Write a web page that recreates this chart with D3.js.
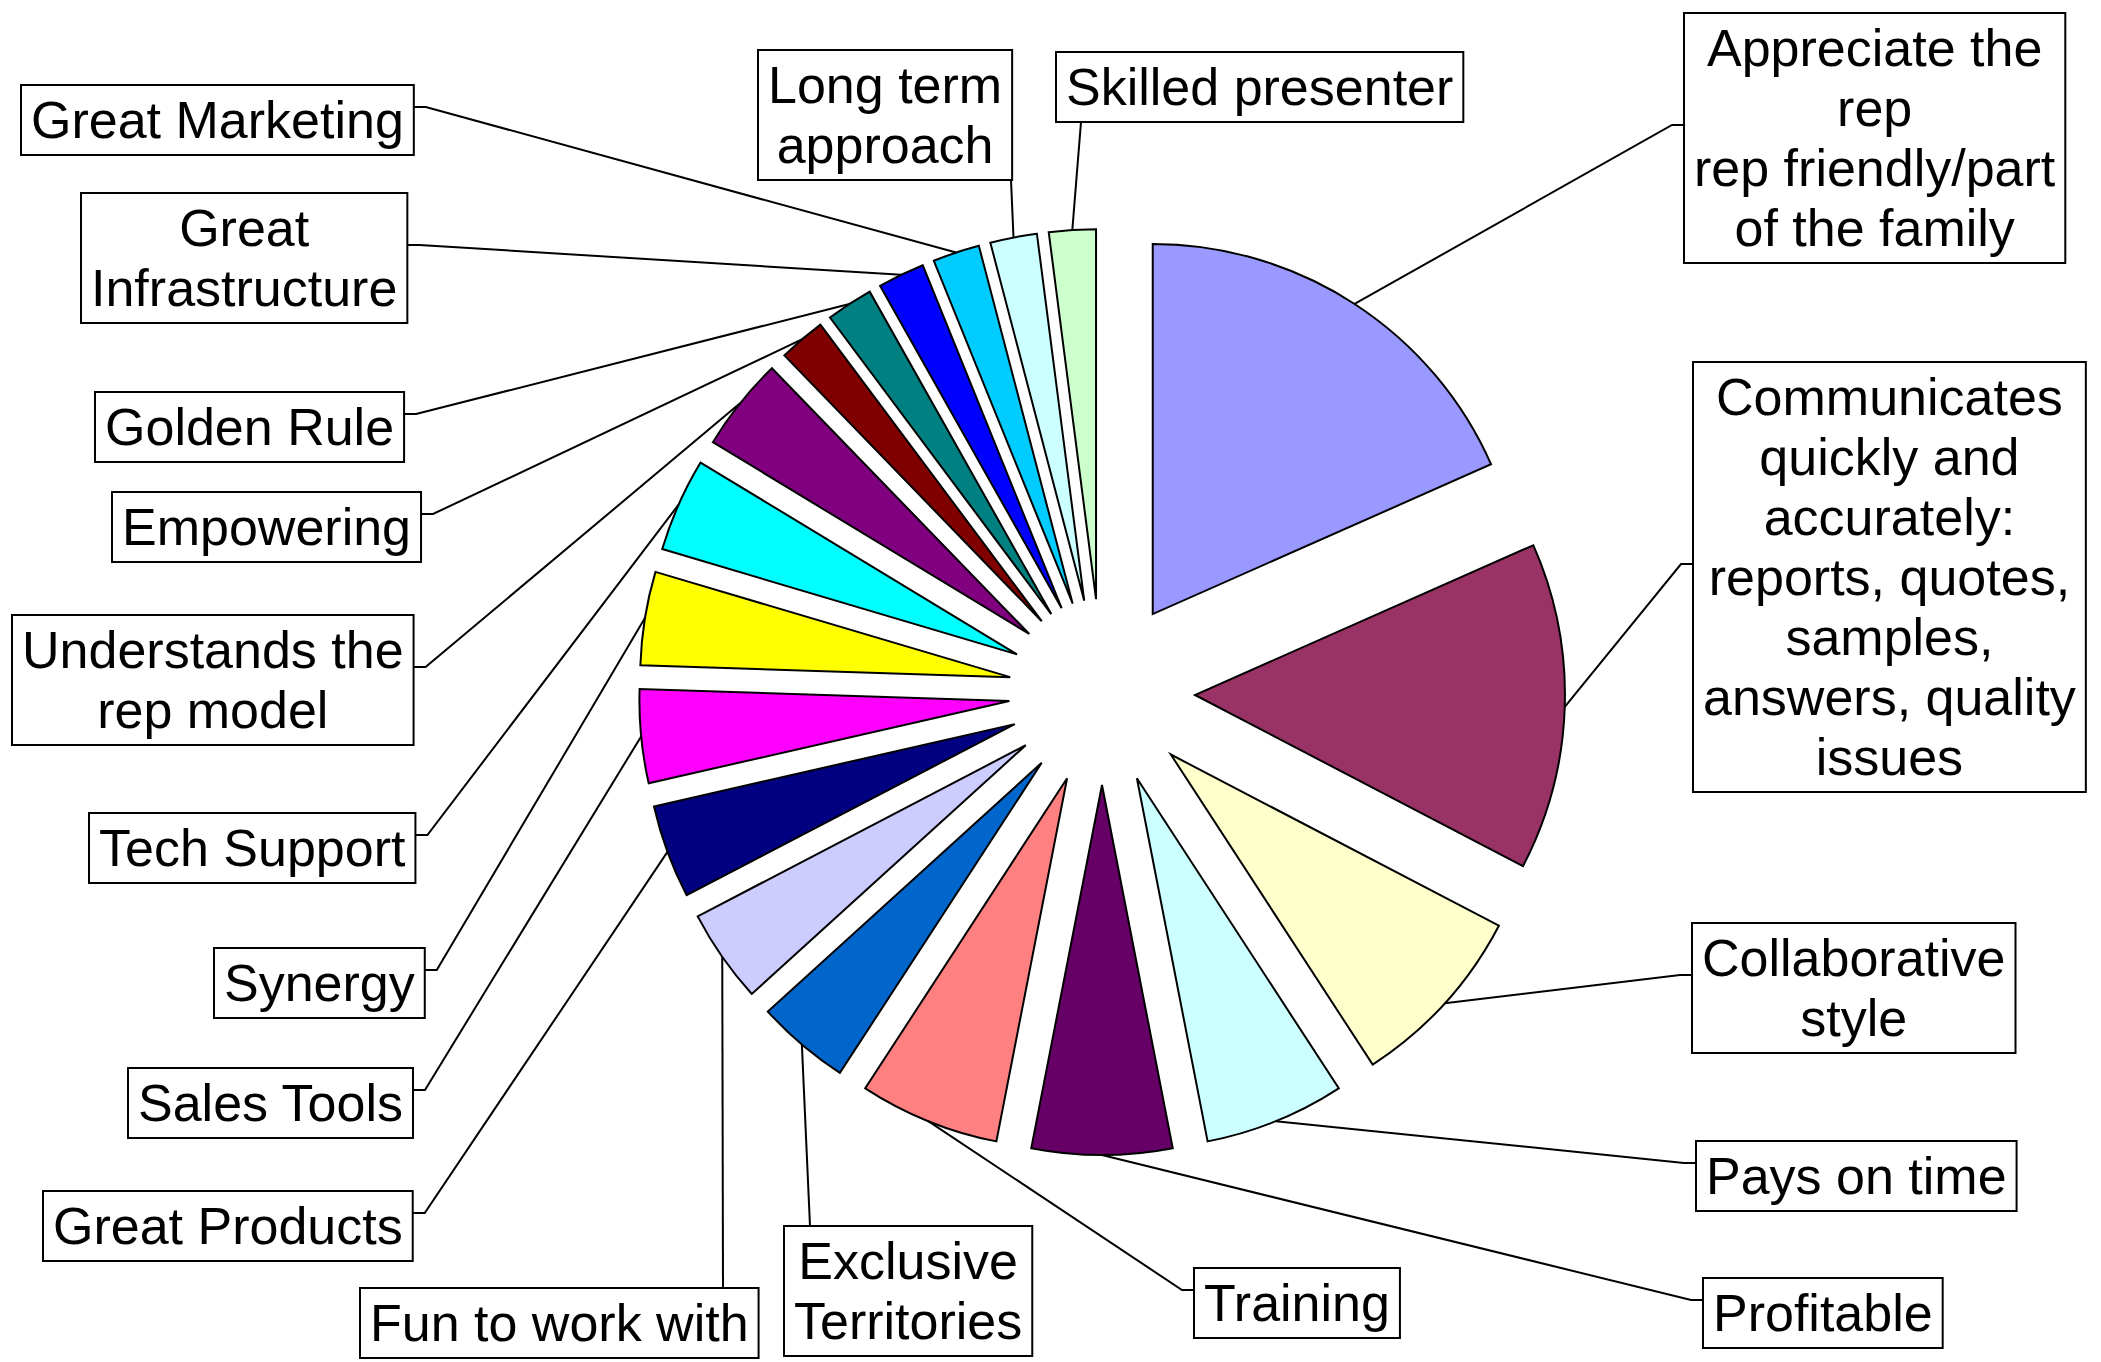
<!DOCTYPE html>
<html><head><meta charset="utf-8">
<script src="https://cdn.jsdelivr.net/npm/d3@7"></script>
<style>html,body{margin:0;padding:0;background:#fff;} svg{display:block}</style>
</head><body>
<script>
// ---- data ----
const categories = [
  "Appreciate the\nrep\nrep friendly/part\nof the family",
  "Communicates\nquickly and\naccurately:\nreports, quotes,\nsamples,\nanswers, quality\nissues",
  "Collaborative\nstyle",
  "Pays on time",
  "Profitable",
  "Training",
  "Exclusive\nTerritories",
  "Fun to work with",
  "Great Products",
  "Sales Tools",
  "Synergy",
  "Tech Support",
  "Understands the\nrep model",
  "Empowering",
  "Golden Rule",
  "Great\nInfrastructure",
  "Great Marketing",
  "Long term\napproach",
  "Skilled presenter"
];
const values = [9, 7, 4, 3, 3, 3, 2, 2, 2, 2, 2, 2, 2, 1, 1, 1, 1, 1, 1];
const colors = ["#9999FF","#993366","#FFFFCC","#CCFFFF","#660066","#FF8080","#0066CC","#CCCCFF",
  "#000080","#FF00FF","#FFFF00","#00FFFF","#800080","#800000","#008080","#0000FF","#00CCFF","#CCFFFF","#CCFFCC"];

// ---- label layout (box left, box top, side where leader attaches, attach offset for top/bottom) ----
const labelLayout = [
  [1684, 13, "left"],
  [1693, 362, "left"],
  [1692, 923, "left"],
  [1696, 1141, "left"],
  [1703, 1278, "left"],
  [1194, 1268, "left"],
  [784, 1226, "top", 26],
  [360, 1288, "top", 363],
  [43, 1191, "right"],
  [128, 1068, "right"],
  [214, 948, "right"],
  [89, 813, "right"],
  [12, 615, "right"],
  [112, 492, "right"],
  [95, 392, "right"],
  [81, 193, "right"],
  [21, 85, "right"],
  [758, 50, "bottom", 253],
  [1056, 52, "bottom", 25]
];

const W = 2101, H = 1362;
const cx = 1102, cy = 692, R = 370, explode = 93;
const fontSize = 52, lineH = 60, padX = 10, padY = 5, stub = 12;

const svg = d3.select("body").append("svg").attr("width", W).attr("height", H)
  .style("font-family", "'Liberation Sans', Arial, sans-serif");
svg.append("rect").attr("width", W).attr("height", H).attr("fill", "#fff");

const arcs = d3.pie().sort(null).value(d => d).startAngle(0).endAngle(2 * Math.PI)(values);
const arcGen = d3.arc().innerRadius(0).outerRadius(R);
const edgeArc = d3.arc().innerRadius(R).outerRadius(R);

const gPie = svg.append("g").attr("transform", `translate(${cx},${cy})`);
arcs.forEach((a, i) => {
  const mid = (a.startAngle + a.endAngle) / 2;
  a.dx = Math.sin(mid) * explode;
  a.dy = -Math.cos(mid) * explode;
  const c = edgeArc.centroid(a);
  a.ex = cx + a.dx + c[0];
  a.ey = cy + a.dy + c[1];
});

gPie.selectAll("path.slice").data(arcs).enter().append("path")
  .attr("class", "slice")
  .attr("d", arcGen)
  .attr("transform", d => `translate(${d.dx},${d.dy})`)
  .attr("fill", (d, i) => colors[i])
  .attr("stroke", "#000")
  .attr("stroke-width", 2)
  .attr("stroke-linejoin", "miter");

// labels
const gLead = svg.append("g");
const gLab = svg.append("g");
categories.forEach((txt, i) => {
  const lines = txt.split("\n");
  const [bx, by, side, ax] = labelLayout[i];
  const g = gLab.append("g");
  const t = g.append("text").attr("font-size", fontSize).attr("fill", "#000").attr("text-anchor", "middle");
  lines.forEach((ln, k) => {
    t.append("tspan").attr("x", 0).attr("y", padY + 48 + k * lineH).text(ln);
  });
  let maxW = 0;
  t.selectAll("tspan").each(function () { maxW = Math.max(maxW, this.getComputedTextLength()); });
  const w = maxW + 2 * padX, h = lines.length * lineH + 2 * padY;
  t.attr("transform", `translate(${w / 2},0)`);
  g.attr("transform", `translate(${bx},${by})`);
  g.insert("rect", "text").attr("width", w).attr("height", h)
    .attr("fill", "#fff").attr("stroke", "#000").attr("stroke-width", 2);

  const a = arcs[i];
  let pts;
  const yMid = by + h / 2 - 13;
  if (side === "left") pts = [[bx, yMid], [bx - stub, yMid], [a.ex, a.ey]];
  else if (side === "right") pts = [[bx + w, yMid], [bx + w + stub, yMid], [a.ex, a.ey]];
  else if (side === "top") pts = [[bx + ax, by], [a.ex, a.ey]];
  else pts = [[bx + ax, by + h], [a.ex, a.ey]];
  gLead.append("path").attr("d", d3.line()(pts))
    .attr("fill", "none").attr("stroke", "#000").attr("stroke-width", 2);
});
</script>
</body></html>
